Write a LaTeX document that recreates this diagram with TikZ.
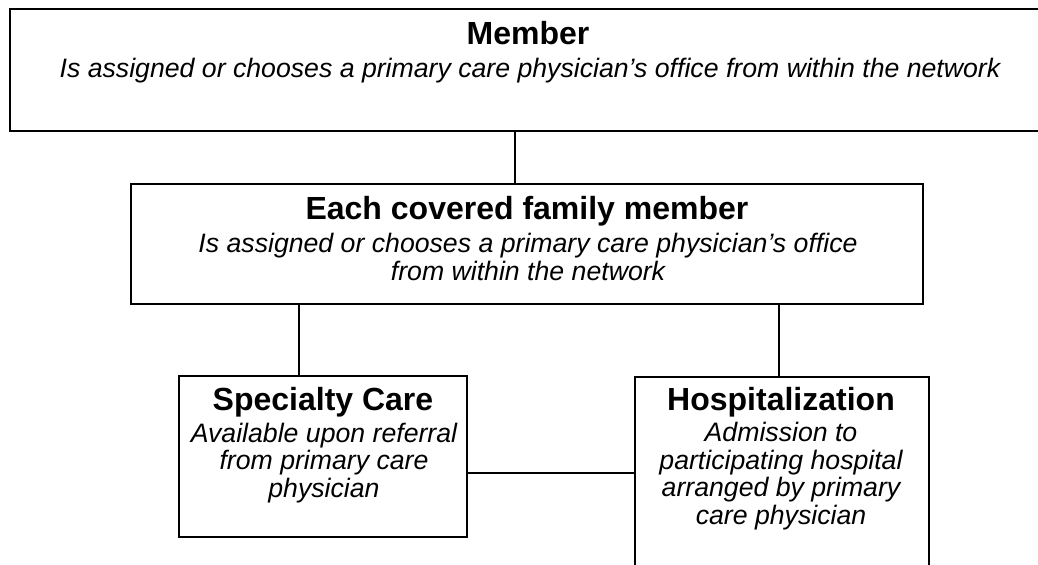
\documentclass[tikz,border=0pt]{standalone}
\usepackage{fontspec}
\setmainfont{Liberation Sans}
\begin{document}
\begin{tikzpicture}[x=0.75pt,y=-0.75pt,
  box/.style={draw=black,line width=1.3pt,rectangle,inner sep=0pt,fill=none},
  link/.style={draw=black,line width=1.0pt},
  ttl/.style={anchor=base,inner sep=0pt,font=\fontsize{24}{28}\selectfont\bfseries},
  sub/.style={anchor=base,inner sep=0pt,align=center,font=\fontsize{20}{20.6}\selectfont\itshape}]
\fill[white] (0,0) rectangle (1038,564);
\clip (0,0) rectangle (1038,564);
% boxes
\node[box,minimum width=1050*0.75pt,minimum height=122*0.75pt] (member) at (535,70) {};
\node[box,minimum width=792*0.75pt,minimum height=120*0.75pt] (family) at (527,244) {};
\node[box,minimum width=288*0.75pt,minimum height=161*0.75pt] (spec) at (323,456.5) {};
\node[box,minimum width=294*0.75pt,minimum height=250*0.75pt] (hosp) at (782,502) {};
% texts (base anchor of a multi-line node = baseline of its last line)
\node[ttl] (memberT) at (528,44) {Member};
\node[sub] (memberS) at (530,77) {Is assigned or chooses a primary care physician’s office from within the network};
\node[ttl] (familyT) at (527,219) {Each covered family member};
\node[sub] (familyS) at (528,280) {Is assigned or chooses a primary care physician’s office\\from within the network};
\node[ttl] (specT) at (323,410) {Specialty Care};
\node[sub] (specS) at (324,497) {Available upon referral\\from primary care\\physician};
\node[ttl] (hospT) at (781,410) {Hospitalization};
\node[sub] (hospS) at (781,524) {Admission to\\participating hospital\\arranged by primary\\care physician};
% connectors
\draw[link] (member.south -| 515,0) -- (family.north -| 515,0);
\draw[link] (family.south -| 299,0) -- (spec.north -| 299,0);
\draw[link] (family.south -| 779,0) -- (hosp.north -| 779,0);
\draw[link] (spec.east |- 0,473) -- (hosp.west |- 0,473);
\end{tikzpicture}
\end{document}
